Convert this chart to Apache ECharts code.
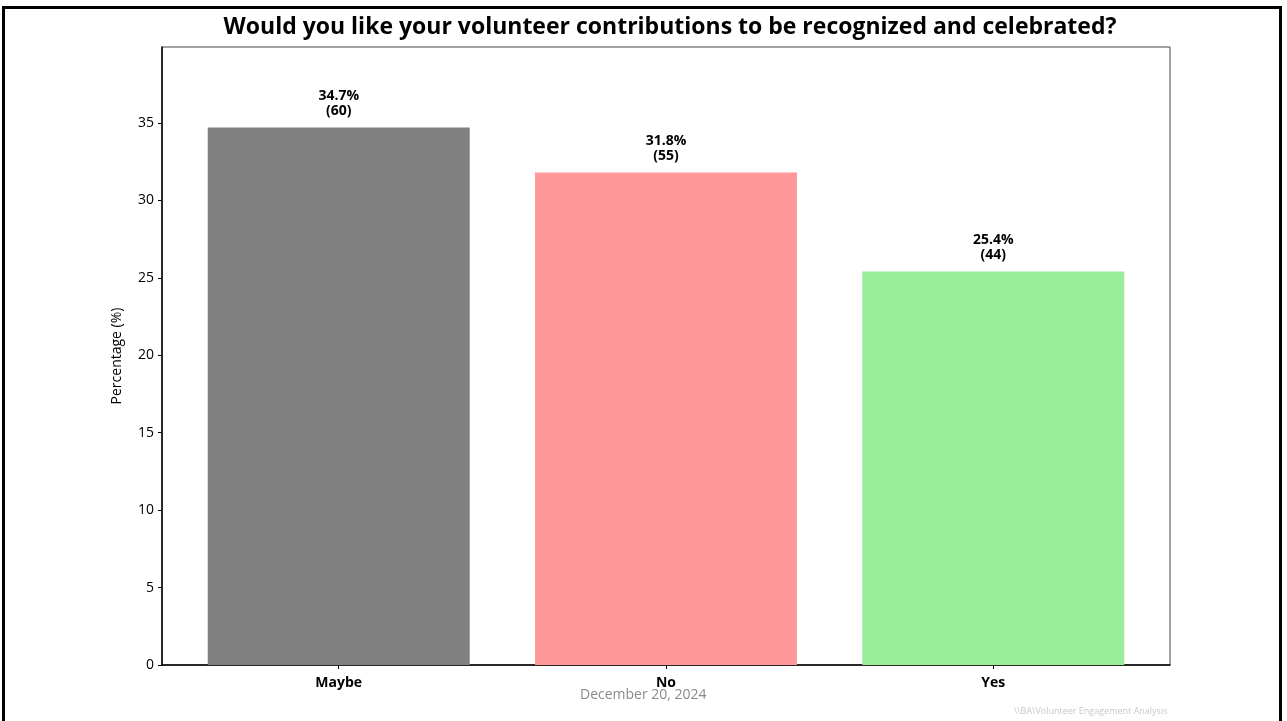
<!DOCTYPE html>
<html>
<head>
<meta charset="utf-8">
<script src="https://cdn.jsdelivr.net/npm/echarts@6/dist/echarts.min.js"></script>
<style>
html,body{margin:0;padding:0;background:#fff;}
#c{width:1287px;height:721px;}
</style>
</head>
<body>
<div id="c"></div>
<script>
const categories = ['Maybe', 'No', 'Yes'];
const percentages = [34.7, 31.8, 25.4];
const counts = [60, 55, 44];
const barColors = ['#808080', '#FF9999', '#99EE99'];
const yTicks = [0, 5, 10, 15, 20, 25, 30, 35];
const titleText = 'Would you like your volunteer contributions to be recognized and celebrated?';
const footerText = 'December 20, 2024';
const pathText = '\\\\BA\\Volunteer Engagement Analysis';

const chart = echarts.init(document.getElementById('c'));
const fontFam = '"Open Sans", "Noto Sans", sans-serif';

const data = percentages.map((v, i) => ({
  value: [i, v],
  itemStyle: { color: barColors[i] },
  label: { formatter: v.toFixed(1) + '%\n(' + counts[i] + ')' }
}));

chart.setOption({
  animation: false,
  backgroundColor: '#fff',
  title: {
    text: titleText,
    left: 665, top: 11, textAlign: 'center',
    textStyle: { fontFamily: fontFam, fontWeight: 'bold', fontSize: 23, color: '#000' }
  },
  grid: {
    left: 162, right: 117, top: 47, bottom: 56,
    show: true, borderColor: '#444', borderWidth: 1, backgroundColor: 'transparent'
  },
  xAxis: {
    type: 'value', min: -0.54, max: 2.54,
    splitLine: { show: false },
    axisLine: { show: true, onZero: false, lineStyle: { color: '#000', width: 1.5 } },
    axisTick: { show: true, customValues: [0, 1, 2], length: 4, lineStyle: { color: '#000' } },
    axisLabel: {
      customValues: [0, 1, 2],
      formatter: v => categories[Math.round(v)],
      fontFamily: fontFam, fontWeight: 'bold', fontSize: 14, color: '#000', margin: 11
    }
  },
  yAxis: {
    type: 'value', min: 0, max: 39.9, interval: 5,
    name: 'Percentage (%)', nameLocation: 'middle', nameGap: 38, nameRotate: 90,
    nameTextStyle: { fontFamily: fontFam, fontSize: 14, color: '#000' },
    splitLine: { show: false },
    axisLine: { show: true, onZero: false, lineStyle: { color: '#000', width: 1.5 } },
    axisTick: { show: true, customValues: yTicks, length: 4, lineStyle: { color: '#000' } },
    axisLabel: {
      customValues: yTicks,
      formatter: v => String(v),
      fontFamily: fontFam, fontSize: 14, color: '#000', margin: 8
    }
  },
  series: [{
    type: 'bar',
    barWidth: 262,
    data: data,
    label: {
      show: true, position: 'top', distance: 9,
      fontFamily: fontFam, fontWeight: 'bold', fontSize: 14, color: '#000', lineHeight: 15, align: 'center'
    }
  }],
  graphic: [
    { type: 'rect', shape: { x: 3.5, y: 7.5, width: 1277, height: 720 }, style: { fill: 'none', stroke: '#000', lineWidth: 3 }, silent: true },
    { type: 'text', left: 580, top: 688, style: { text: footerText, fontFamily: fontFam, fontSize: 14, fill: '#8a8a8a' } },
    { type: 'text', left: 1014, top: 707, style: { text: pathText, fontFamily: fontFam, fontSize: 9, fill: '#c8c8c8' } }
  ]
});
</script>
</body>
</html>
